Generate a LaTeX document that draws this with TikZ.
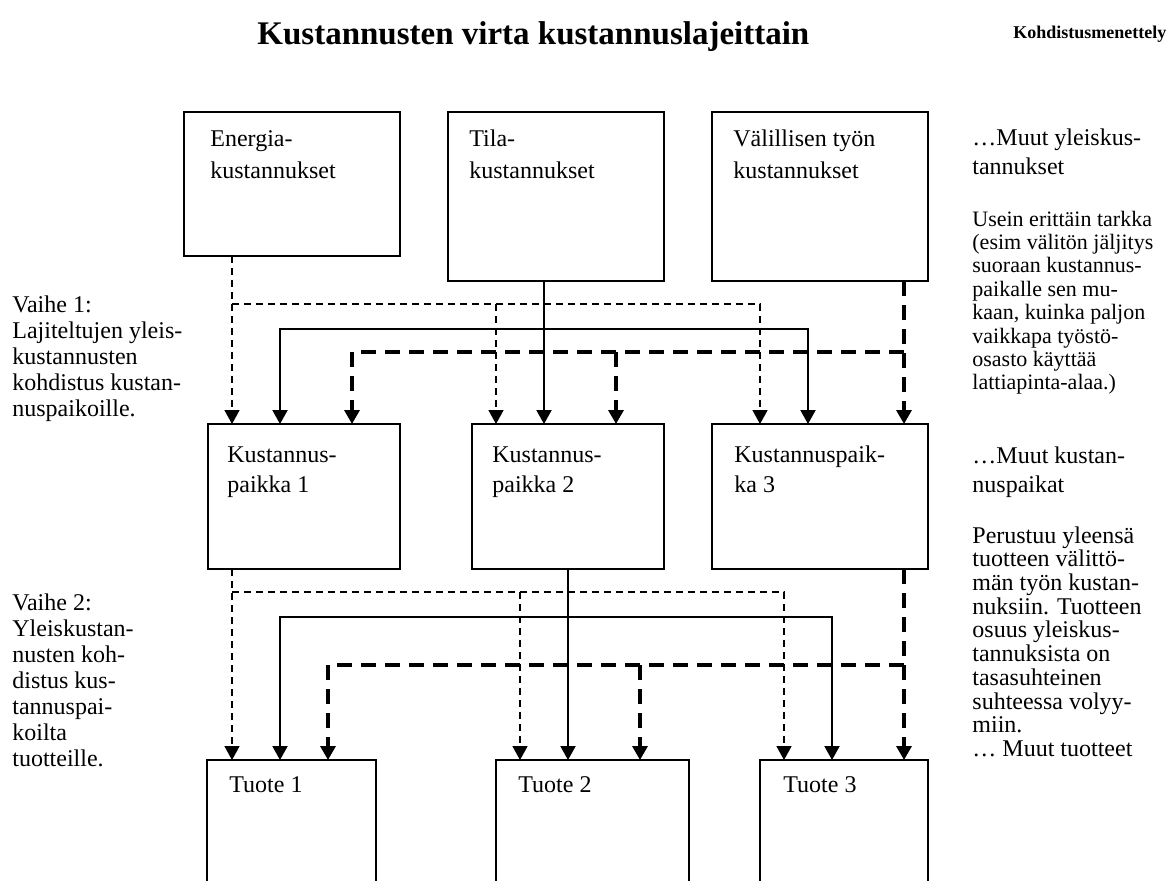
\documentclass[tikz,border=0pt]{standalone}
\usepackage{fontspec}
\setmainfont{Liberation Serif}
\usetikzlibrary{arrows.meta}
\newcommand{\rows}[1]{\begin{tabular}[t]{@{}l@{}}#1\end{tabular}}
\begin{document}
\begin{tikzpicture}[x=0.5pt,y=-0.5pt,
  box/.style={draw, line width=1.1pt, anchor=north west, inner sep=0pt, outer sep=0pt},
  boxtext/.style={anchor=base west, inner sep=0pt, font=\fontsize{12}{16}\selectfont},
  centretext/.style={anchor=base west, inner sep=0pt, font=\fontsize{12}{15}\selectfont},
  sidetext/.style={anchor=base west, inner sep=0pt, font=\fontsize{12}{13}\selectfont},
  notetext/.style={anchor=base west, inner sep=0pt, font=\fontsize{12}{14.5}\selectfont},
  smalltext/.style={anchor=base west, inner sep=0pt, font=\fontsize{11}{11.7}\selectfont},
  bodytext/.style={anchor=base west, inner sep=0pt, font=\fontsize{12}{11.8}\selectfont},
  tip/.style={-{Triangle[width=7.5pt,length=7pt]}},
  thinflow/.style={tip, line width=0.85pt, dash pattern=on 3.5pt off 2.5pt},
  solidflow/.style={tip, line width=1pt},
  thickflow/.style={tip, line width=1.6pt, dash pattern=on 7.5pt off 4.5pt},
]
\clip (0,0) rectangle (1170,880);

% headings
\node[anchor=base west, inner sep=0pt, font=\bfseries\fontsize{16.5}{20}\selectfont] (title) at (257,44) {Kustannusten virta kustannuslajeittain};
\node[anchor=base west, inner sep=0pt, font=\bfseries\fontsize{9}{11}\selectfont] (head) at (1013,38) {Kohdistusmenettely};

% cost types
\node[box, minimum width=108pt, minimum height=72pt] (e) at (184,112) {};
\node[box, minimum width=108pt, minimum height=84.5pt] (t) at (448,112) {};
\node[box, minimum width=108pt, minimum height=84.5pt] (v) at (712,112) {};
\node[boxtext] (et) at (210,146) {\rows{Energia-\\kustannukset}};
\node[boxtext] (tt) at (469,146) {\rows{Tila-\\kustannukset}};
\node[boxtext] (vt) at (733,146) {\rows{Välillisen työn\\kustannukset}};

% cost centres
\node[box, minimum width=96pt, minimum height=72.5pt] (k1) at (208,424) {};
\node[box, minimum width=96pt, minimum height=72.5pt] (k2) at (472,424) {};
\node[box, minimum width=108pt, minimum height=72.5pt] (k3) at (712,424) {};
\node[centretext] (k1t) at (227,462) {\rows{Kustannus-\\paikka 1}};
\node[centretext] (k2t) at (492,462) {\rows{Kustannus-\\paikka 2}};
\node[centretext] (k3t) at (734,462) {\rows{Kustannuspaik-\\ka 3}};

% products
\node[box, minimum width=84.5pt, minimum height=70pt] (p1) at (207,760) {};
\node[box, minimum width=96.5pt, minimum height=70pt] (p2) at (496,760) {};
\node[box, minimum width=84pt, minimum height=70pt] (p3) at (760,760) {};
\node[boxtext] (p1t) at (229,792) {Tuote 1};
\node[boxtext] (p2t) at (518,792) {Tuote 2};
\node[boxtext] (p3t) at (783,792) {Tuote 3};

% left column
\node[sidetext] (s1) at (12,312) {\rows{Vaihe 1:\\Lajiteltujen yleis-\\kustannusten\\kohdistus kustan-\\nuspaikoille.}};
\node[sidetext] (s2) at (12,610) {\rows{Vaihe 2:\\Yleiskustan-\\nusten koh-\\distus kus-\\tannuspai-\\koilta\\tuotteille.}};

% right column
\node[notetext] (r1) at (972,145) {\rows{…Muut yleiskus-\\tannukset}};
\node[smalltext] (r2) at (972,226) {\rows{Usein erittäin tarkka\\(esim välitön jäljitys\\suoraan kustannus-\\paikalle sen mu-\\kaan, kuinka paljon\\vaikkapa työstö-\\osasto käyttää\\lattiapinta-alaa.)}};
\node[notetext] (r3) at (972,463) {\rows{…Muut kustan-\\nuspaikat}};
\node[bodytext] (r4) at (972,543) {\rows{Perustuu yleensä\\tuotteen välittö-\\män työn kustan-\\nuksiin. Tuotteen\\osuus yleiskus-\\tannuksista on\\tasasuhteinen\\suhteessa volyy-\\miin.\\… Muut tuotteet}};

% column and level positions of the flows
\coordinate (a1) at (232,0);
\coordinate (a2) at (280,0);
\coordinate (a3) at (352,0);
\coordinate (b1) at (496,0);
\coordinate (b2) at (544,0);
\coordinate (b3) at (616,0);
\coordinate (c1) at (760,0);
\coordinate (c2) at (808,0);
\coordinate (c3) at (904,0);
\coordinate (d3) at (328,0);
\coordinate (e1) at (520,0);
\coordinate (e2) at (568,0);
\coordinate (e3) at (640,0);
\coordinate (f1) at (784,0);
\coordinate (f2) at (832,0);
\coordinate (hA) at (0,304);
\coordinate (hB) at (0,329);
\coordinate (hC) at (0,352);
\coordinate (gA) at (0,592);
\coordinate (gB) at (0,617);
\coordinate (gC) at (0,665);

% stage 1: cost types to cost centres
\draw[thinflow] (a1 |- e.south) -- (a1 |- k1.north);
\draw[thinflow] (a1 |- hA) -| (c1 |- k3.north);
\draw[thinflow] (b1 |- hA) -- (b1 |- k2.north);

\draw[solidflow] (b2 |- t.south) -- (b2 |- k2.north);
\draw[solidflow] (b2 |- hB) -| (a2 |- k1.north);
\draw[solidflow] (b2 |- hB) -| (c2 |- k3.north);

\draw[thickflow] (c3 |- v.south) -- (c3 |- k3.north);
\draw[thickflow] (c3 |- hC) -| (a3 |- k1.north);
\draw[thickflow] (b3 |- hC) -- (b3 |- k2.north);

% stage 2: cost centres to products
\draw[thinflow] (a1 |- k1.south) -- (a1 |- p1.north);
\draw[thinflow] (a1 |- gA) -| (f1 |- p3.north);
\draw[thinflow] (e1 |- gA) -- (e1 |- p2.north);

\draw[solidflow] (e2 |- k2.south) -- (e2 |- p2.north);
\draw[solidflow] (e2 |- gB) -| (a2 |- p1.north);
\draw[solidflow] (e2 |- gB) -| (f2 |- p3.north);

\draw[thickflow] (c3 |- k3.south) -- (c3 |- p3.north);
\draw[thickflow] (c3 |- gC) -| (d3 |- p1.north);
\draw[thickflow] (e3 |- gC) -- (e3 |- p2.north);
\end{tikzpicture}
\end{document}
